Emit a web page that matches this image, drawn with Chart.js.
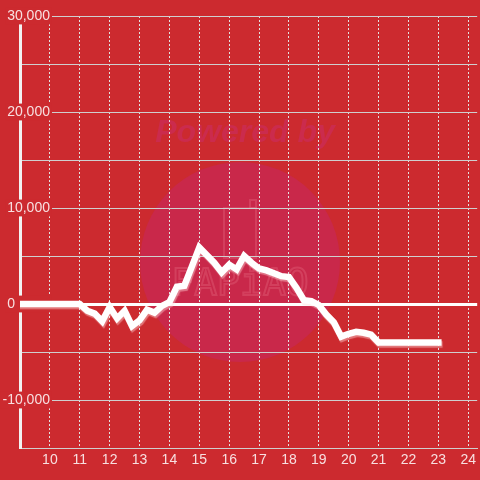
<!DOCTYPE html>
<html>
<head>
<meta charset="utf-8">
<script src="https://cdn.jsdelivr.net/npm/chart.js@4/dist/chart.umd.min.js"></script>
<style>
  html, body { margin: 0; padding: 0; background: #cc2a2f; }
  #wrap { width: 480px; height: 480px; }
</style>
</head>
<body>
<div id="wrap"><canvas id="chart" width="480" height="480"></canvas></div>
<script>
// hours of the day, every 15 minutes
const hours = [
  9, 9.25, 9.5, 9.75, 10, 10.25, 10.5, 10.75,
  11, 11.25, 11.5, 11.75, 12, 12.25, 12.5, 12.75,
  13, 13.25, 13.5, 13.75, 14, 14.25, 14.5, 14.75,
  15, 15.25, 15.5, 15.75, 16, 16.25, 16.5, 16.75,
  17, 17.25, 17.5, 17.75, 18, 18.25, 18.5, 18.75,
  19, 19.25, 19.5, 19.75, 20, 20.25, 20.5, 20.75,
  21, 21.25, 21.5, 21.75, 22, 22.25, 22.5, 22.75, 23
];
const values = [
  0, 0, 0, 0, 0, 0, 0, 0,
  0, -700, -1000, -1800, -300, -1500, -700, -2300,
  -1700, -600, -900, -200, 200, 1800, 1900, 3900,
  5900, 5100, 4300, 3300, 4100, 3600, 5000, 4300,
  3700, 3500, 3200, 2900, 2800, 1700, 400, 300,
  -100, -1100, -1900, -3400, -3100, -2900, -3000, -3200,
  -4000, -4000, -4000, -4000, -4000, -4000, -4000, -4000, -4000
];
const yLabelTicks = [30000, 20000, 10000, 0, -10000];

const bg = '#cc2a2f';
const textColor = 'rgba(255,255,255,0.85)';
const gridColor = '#cfcfcf';

// faint "Powered by" watermark behind the plot
const watermark = {
  id: 'watermark',
  beforeDraw(chart) {
    const ctx = chart.ctx;
    ctx.save();
    ctx.fillStyle = '#c9284a';
    ctx.beginPath();
    ctx.arc(240, 262, 100, 0, Math.PI * 2);
    ctx.fill();
    ctx.fillStyle = '#cb2b4d';
    ctx.font = 'italic bold 32px "Liberation Sans", Arial, sans-serif';
    ctx.textAlign = 'center';
    ctx.textBaseline = 'middle';
    ctx.fillText('Powered by', 245, 133);
    ctx.strokeStyle = 'rgba(235,120,140,0.3)';
    ctx.lineWidth = 2;
    ctx.strokeRect(224, 208, 32, 50);
    ctx.strokeRect(250, 200, 6, 8);
    ctx.font = '38px "DejaVu Sans Mono", monospace';
    ctx.strokeText('FAPiAO', 240, 285);
    ctx.restore();
  }
};

const lineShadow = {
  id: 'lineShadow',
  beforeDatasetsDraw(chart) {
    const ctx = chart.ctx;
    ctx.save();
    ctx.shadowColor = 'rgba(255,220,220,0.45)';
    ctx.shadowOffsetX = 1;
    ctx.shadowOffsetY = 2;
    ctx.shadowBlur = 1;
  },
  afterDatasetsDraw(chart) {
    chart.ctx.restore();
  }
};

function yLabel(v) {
  if (!yLabelTicks.includes(v)) return '';
  // the zero label sits at the left edge, not against the others
  if (v === 0) return '0' + '\u00a0'.repeat(9);
  return v.toLocaleString('en-US');
}

new Chart(document.getElementById('chart'), {
  type: 'line',
  data: {
    datasets: [{
      data: hours.map((h, i) => ({ x: h, y: values[i] })),
      borderColor: '#ffffff',
      borderWidth: 6.5,
      borderCapStyle: 'square',
      pointRadius: 0,
      tension: 0,
      fill: false
    }]
  },
  options: {
    responsive: false,
    animation: false,
    layout: { padding: { top: 16, right: 0, bottom: 0, left: 0 } },
    plugins: { legend: { display: false }, tooltip: { enabled: false } },
    scales: {
      x: {
        type: 'linear',
        min: 9,
        max: 24.3,
        afterFit(scale) { scale.height = 32; },
        ticks: {
          stepSize: 1,
          includeBounds: false,
          autoSkip: false,
          maxRotation: 0,
          padding: 4,
          color: textColor,
          font: { family: '"Liberation Sans", Arial, sans-serif', size: 14 },
          callback: (v) => (v === 9 ? '' : String(v))
        },
        grid: {
          drawTicks: false,
          lineWidth: 1,
          color: (ctx) => (ctx.tick && ctx.tick.value === 9 ? 'rgba(0,0,0,0)' : '#e2e2e2')
        },
        border: { display: true, color: gridColor, width: 1, dash: [2, 2] }
      },
      y: {
        min: -15000,
        max: 30000,
        afterFit(scale) { scale.width = 20; },
        ticks: {
          stepSize: 5000,
          mirror: true,
          crossAlign: 'far',
          padding: -17.5,
          color: textColor,
          font: { family: '"Liberation Sans", Arial, sans-serif', size: 14 },
          showLabelBackdrop: true,
          backdropPadding: { top: 0, bottom: 0, left: 2, right: 2 },
          backdropColor: (ctx) => (ctx.tick && yLabelTicks.includes(ctx.tick.value) ? bg : 'rgba(0,0,0,0)'),
          callback: yLabel
        },
        grid: {
          drawTicks: false,
          color: (ctx) => (ctx.tick && ctx.tick.value === 0 ? '#ffffff' : gridColor),
          lineWidth: (ctx) => (ctx.tick && ctx.tick.value === 0 ? 3 : 1)
        },
        border: { display: true, color: '#f2f2f2', width: 3 }
      }
    }
  },
  plugins: [watermark, lineShadow]
});
</script>
</body>
</html>
